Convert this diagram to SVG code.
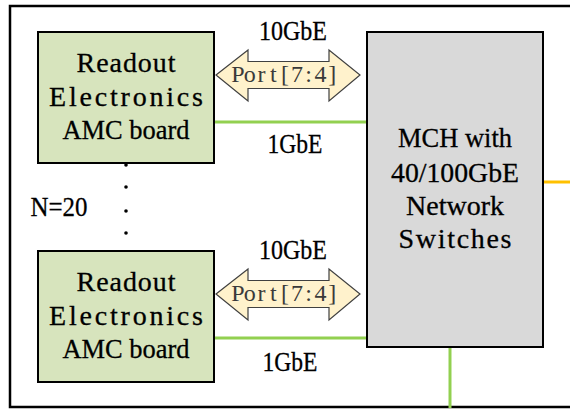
<svg xmlns="http://www.w3.org/2000/svg" width="570" height="410" viewBox="0 0 570 410">
<style>
.box{stroke:#000;stroke-width:2}
.amc{fill:#d7e4bd}
.mch{fill:#d9d9d9}
.t{font-family:"Liberation Serif","DejaVu Serif",serif;font-size:28px;fill:#000;text-anchor:middle;stroke:#000;stroke-width:0.3}
.p{font-family:"Liberation Serif","DejaVu Serif",serif;font-size:24px;fill:#3a3a3a;text-anchor:middle}
.g{stroke:#92d050;stroke-width:3;fill:none}
.o{stroke:#ffc000;stroke-width:3;fill:none}
.arr{fill:#fff2cc;stroke:#404040;stroke-width:1.2}
.dot{fill:#000}
</style>
<rect x="0" y="0" width="570" height="410" fill="#fff"/>
<path d="M572,6 H10 V407 H572" fill="none" stroke="#000" stroke-width="2.5"/>
<g id="connectors">
<line class="g" x1="214" y1="122" x2="368" y2="122"/>
<line class="g" x1="214" y1="338" x2="372" y2="338"/>
<line class="g" x1="450" y1="347" x2="450" y2="408"/>
<line class="o" x1="543" y1="182" x2="572" y2="182"/>
<g id="port-top">
<path class="arr" d="M216,75 L248,50 V61.5 H329 V50 L360,75 L329,101 V88.5 H248 V101 Z"/>
<text class="p" x="237.9 249.7 261.5 273.3 285.1 296.9 308.7 320.5 332.3" y="82">Port[7:4]</text>
</g>
<g id="port-bottom">
<path class="arr" d="M216,294 L248,269 V280.5 H329 V269 L360,294 L329,320 V307.5 H248 V320 Z"/>
<text class="p" x="237.9 249.7 261.5 273.3 285.1 296.9 308.7 320.5 332.3" y="301">Port[7:4]</text>
</g>
<text class="t" x="293" y="40" textLength="68" lengthAdjust="spacingAndGlyphs">10GbE</text>
<text class="t" x="295" y="153" textLength="55" lengthAdjust="spacingAndGlyphs">1GbE</text>
<text class="t" x="293" y="259" textLength="68" lengthAdjust="spacingAndGlyphs">10GbE</text>
<text class="t" x="290" y="371" textLength="55" lengthAdjust="spacingAndGlyphs">1GbE</text>
</g>
<g id="amc-top">
<rect class="box amc" x="38" y="32" width="176" height="131"/>
<text class="t" x="126" y="72" textLength="99" lengthAdjust="spacing">Readout</text>
<text class="t" x="126" y="106" textLength="154" lengthAdjust="spacing">Electronics</text>
<text class="t" x="126" y="139" textLength="127" lengthAdjust="spacingAndGlyphs">AMC board</text>
</g>
<g id="amc-bottom">
<rect class="box amc" x="38" y="251" width="176" height="131"/>
<text class="t" x="126" y="291" textLength="99" lengthAdjust="spacing">Readout</text>
<text class="t" x="126" y="325" textLength="154" lengthAdjust="spacing">Electronics</text>
<text class="t" x="126" y="358" textLength="127" lengthAdjust="spacingAndGlyphs">AMC board</text>
</g>
<g id="ellipsis">
<circle class="dot" cx="126" cy="165" r="1.8"/>
<circle class="dot" cx="126" cy="187" r="1.8"/>
<circle class="dot" cx="126" cy="211" r="1.8"/>
<circle class="dot" cx="126" cy="233" r="1.8"/>
<text class="t" x="59" y="216" textLength="57" lengthAdjust="spacingAndGlyphs">N=20</text>
</g>
<g id="mch">
<rect class="box mch" x="367" y="32" width="176" height="315"/>
<text class="t" x="455" y="147" textLength="114" lengthAdjust="spacingAndGlyphs">MCH with</text>
<text class="t" x="455" y="182" textLength="128" lengthAdjust="spacingAndGlyphs">40/100GbE</text>
<text class="t" x="455" y="215" textLength="98" lengthAdjust="spacingAndGlyphs">Network</text>
<text class="t" x="455" y="248" textLength="113" lengthAdjust="spacing">Switches</text>
</g>
</svg>
